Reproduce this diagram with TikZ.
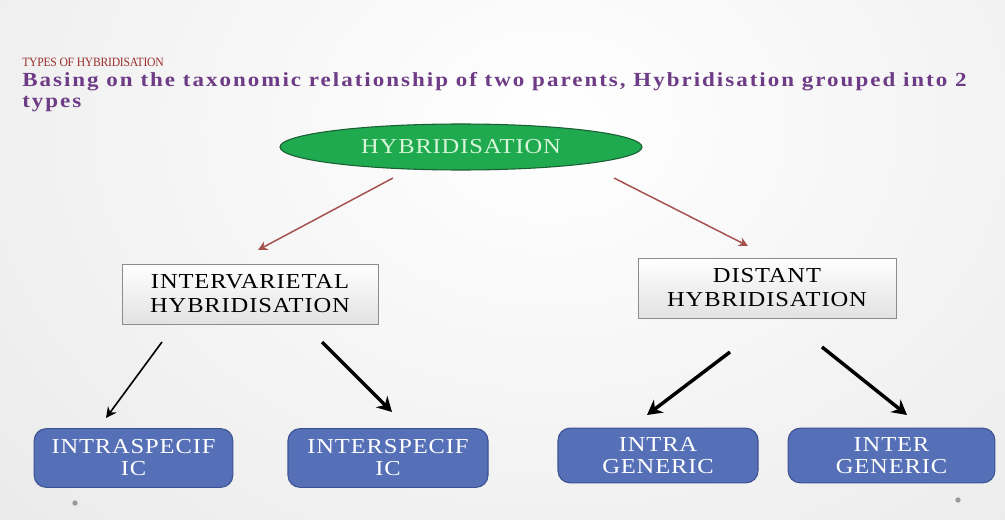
\documentclass[tikz,border=0pt]{standalone}
\usepackage{fontspec}
\setmainfont{Liberation Serif}
\usetikzlibrary{shapes.geometric,arrows.meta}
\definecolor{titlered}{HTML}{9A2E2A}
\definecolor{subpurple}{HTML}{6E3C86}
\definecolor{ovalgreen}{HTML}{1FAA4F}
\definecolor{ovaledge}{HTML}{1B5E33}
\definecolor{ovaltext}{HTML}{D8F5D8}
\definecolor{linkred}{HTML}{A4514F}
\definecolor{boxblue}{HTML}{5670B8}
\definecolor{boxblueedge}{HTML}{3C5291}
\definecolor{boxgray}{HTML}{E2E2E2}
\definecolor{boxgrayedge}{HTML}{8C8C8C}
\newfontfamily\boxfont[FakeStretch=1.15, LetterSpace=4]{Liberation Serif}
\newfontfamily\leadfont[FakeStretch=1.15, LetterSpace=10]{Liberation Serif}
\newfontfamily\kickerfont[FakeStretch=0.92, LetterSpace=-2]{Liberation Serif}
\tikzset{
  oval/.style={ellipse, draw=ovaledge, line width=0.8pt, fill=ovalgreen,
    minimum width=271.5pt, minimum height=34.5pt, inner sep=0pt,
    text=ovaltext, font=\boxfont\fontsize{16}{18}\selectfont},
  graybox/.style={rectangle, draw=boxgrayedge, line width=0.5pt,
    top color=white, bottom color=boxgray, align=center,
    minimum width=192pt, minimum height=45pt, inner sep=0pt,
    font=\boxfont\fontsize{16}{18}\selectfont},
  bluebox/.style={rectangle, rounded corners=9pt, draw=boxblueedge, line width=0.8pt,
    fill=boxblue, text=white, align=center,
    minimum height=44pt, inner sep=0pt,
    font=\boxfont\fontsize{16}{16.5}\selectfont},
  redlink/.style={draw=linkred, line width=1.1pt, -{Stealth[length=7pt,width=7pt]}},
  thinlink/.style={draw=black, line width=1.2pt, -{Stealth[length=8pt,width=8pt]}},
  thicklink/.style={draw=black, line width=2.6pt, -{Stealth[length=11pt,width=12pt]}},
  dotmark/.style={circle, fill=gray!80, inner sep=0pt, minimum size=4pt}
}
\begin{document}
\begin{tikzpicture}[x=0.75pt, y=-0.75pt]
  % slide background
  \useasboundingbox (0,0) rectangle (1005,520);
  \begin{scope}
    \clip (0,0) rectangle (1005,520);
    \fill[gray!16] (0,0) rectangle (1005,520);
    \shade[inner color=white, outer color=gray!16] (-200,-450) rectangle (1300,700);
  \end{scope}

  % headings
  \node[anchor=base west, text=titlered, inner sep=0pt,
        font=\kickerfont\fontsize{9.5}{11}\selectfont] (kicker) at (22,67) {TYPES OF HYBRIDISATION};
  \node[anchor=base west, text=subpurple, inner sep=0pt,
        font=\leadfont\fontsize{15}{15}\bfseries] (lead) at (22,87)
        {Basing on the taxonomic relationship of two parents, Hybridisation grouped into 2};
  \node[anchor=base west, text=subpurple, inner sep=0pt,
        font=\leadfont\fontsize{15}{15}\bfseries] (leadb) at (22,108) {types};

  % tree
  \node[oval] (root) at (461,147) {HYBRIDISATION};
  \node[graybox] (inter) at (250,294) {INTERVARIETAL\\HYBRIDISATION};
  \node[graybox, minimum width=193.5pt] (dist) at (767,288) {DISTANT\\HYBRIDISATION};

  \node[bluebox, minimum width=149pt] (intrasp) at (133.5,458) {INTRASPECIF\\IC};
  \node[bluebox, minimum width=150pt] (intersp) at (388,458) {INTERSPECIF\\IC};
  \node[bluebox, minimum width=150pt, minimum height=41pt] (intrag) at (658,455.5) {INTRA\\GENERIC};
  \node[bluebox, minimum width=155pt, minimum height=41pt] (interg) at (891.5,455.5) {INTER\\GENERIC};

  % free ends of the arrows
  \coordinate (r1a) at (393,178); \coordinate (r1b) at (258,250);
  \coordinate (r2a) at (614,178); \coordinate (r2b) at (748,246);
  \coordinate (b1a) at (162,342); \coordinate (b1b) at (106,418);
  \coordinate (b2a) at (322,342); \coordinate (b2b) at (392,412);
  \coordinate (b3a) at (730,352); \coordinate (b3b) at (647,415);
  \coordinate (b4a) at (822,347); \coordinate (b4b) at (907,415);

  \draw[redlink] (r1a) -- (r1b);
  \draw[redlink] (r2a) -- (r2b);
  \draw[thinlink] (b1a) -- (b1b);
  \draw[thicklink] (b2a) -- (b2b);
  \draw[thicklink] (b3a) -- (b3b);
  \draw[thicklink] (b4a) -- (b4b);

  % slide bullets
  \node[dotmark] (dotl) at (75,503) {};
  \node[dotmark] (dotr) at (958,500) {};
\end{tikzpicture}
\end{document}
